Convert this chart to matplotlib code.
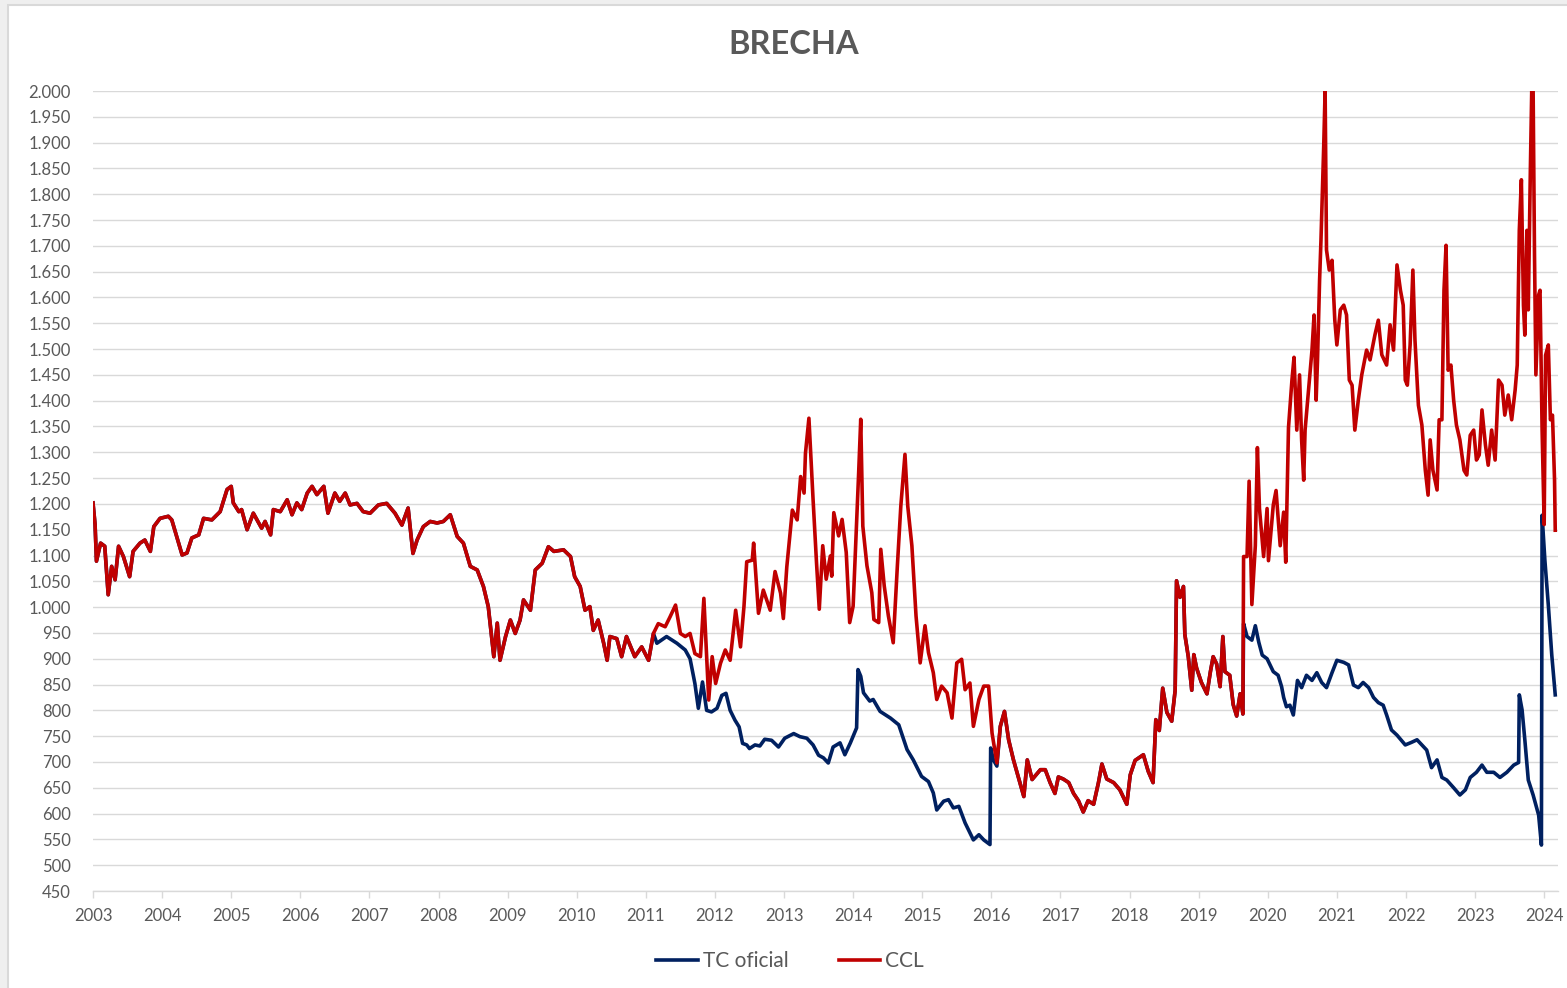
import matplotlib
matplotlib.use("Agg")
import matplotlib.pyplot as plt
from matplotlib.patches import Rectangle
from matplotlib.ticker import FuncFormatter, MultipleLocator
import numpy as np

# CCL (decimal year, value)
ccl_fecha = [
    2003.00, 2003.03, 2003.05, 2003.11, 2003.17, 2003.22, 2003.27, 2003.32, 2003.37, 2003.44,
    2003.53, 2003.58, 2003.68, 2003.75, 2003.83, 2003.88, 2003.97, 2004.09, 2004.14, 2004.21,
    2004.29, 2004.36, 2004.43, 2004.53, 2004.60, 2004.72, 2004.84, 2004.94, 2005.00, 2005.03,
    2005.11, 2005.15, 2005.23, 2005.32, 2005.44, 2005.49, 2005.57, 2005.61, 2005.71, 2005.81,
    2005.88, 2005.95, 2006.02, 2006.10, 2006.17, 2006.24, 2006.34, 2006.40,
    2006.50, 2006.57, 2006.65, 2006.72, 2006.82, 2006.91, 2007.01, 2007.13, 2007.25, 2007.37,
    2007.47, 2007.56, 2007.63, 2007.69, 2007.78, 2007.88, 2007.98, 2008.07, 2008.17, 2008.27,
    2008.36, 2008.46, 2008.56, 2008.65, 2008.72, 2008.80, 2008.85, 2008.89, 2008.97, 2009.04,
    2009.11, 2009.18, 2009.23, 2009.33, 2009.40, 2009.50, 2009.59, 2009.67, 2009.81, 2009.91,
    2009.97, 2010.05, 2010.12, 2010.19, 2010.24, 2010.31, 2010.39, 2010.44, 2010.48, 2010.58,
    2010.65, 2010.72, 2010.84, 2010.94, 2011.04, 2011.11, 2011.18, 2011.28, 2011.35, 2011.43,
    2011.50, 2011.57, 2011.64, 2011.71, 2011.79, 2011.84, 2011.91, 2011.96, 2012.01, 2012.08,
    2012.15, 2012.22, 2012.30, 2012.37, 2012.42, 2012.46, 2012.54, 2012.56, 2012.63, 2012.70,
    2012.80, 2012.87, 2012.95, 2012.99, 2013.04, 2013.12, 2013.19, 2013.24, 2013.29, 2013.31,
    2013.36,
    2013.42, 2013.47, 2013.51, 2013.56, 2013.61, 2013.67, 2013.69, 2013.72, 2013.79, 2013.84,
    2013.90, 2013.95, 2014.00, 2014.04, 2014.08, 2014.11, 2014.14, 2014.20, 2014.27, 2014.30,
    2014.37, 2014.40, 2014.45, 2014.51, 2014.58, 2014.64, 2014.69, 2014.75, 2014.79, 2014.85,
    2014.91, 2014.97, 2015.04, 2015.09, 2015.16, 2015.21, 2015.28, 2015.36, 2015.43, 2015.50,
    2015.57, 2015.62, 2015.69, 2015.74, 2015.82, 2015.89, 2015.96, 2016.01, 2016.08, 2016.13,
    2016.19, 2016.25, 2016.32, 2016.40, 2016.47, 2016.52, 2016.59, 2016.71, 2016.78,
    2016.85, 2016.92, 2016.97, 2017.04, 2017.12, 2017.19, 2017.26, 2017.33, 2017.40, 2017.48,
    2017.55, 2017.60, 2017.67, 2017.77, 2017.86, 2017.96, 2018.01, 2018.08, 2018.20, 2018.27,
    2018.34, 2018.38, 2018.43, 2018.48, 2018.54, 2018.61, 2018.66, 2018.68, 2018.73, 2018.78,
    2018.80, 2018.85, 2018.90, 2018.93, 2018.97, 2019.04, 2019.12, 2019.17, 2019.21, 2019.26,
    2019.31, 2019.35, 2019.38, 2019.45, 2019.50, 2019.55, 2019.60, 2019.64, 2019.65, 2019.70,
    2019.73, 2019.77, 2019.82, 2019.85, 2019.88, 2019.94, 2019.99, 2020.01, 2020.08, 2020.12,
    2020.18, 2020.23, 2020.26, 2020.30,
    2020.35, 2020.38, 2020.42, 2020.46, 2020.49, 2020.52, 2020.54, 2020.59, 2020.64, 2020.67,
    2020.70, 2020.72, 2020.75, 2020.77, 2020.81, 2020.83, 2020.85, 2020.89, 2020.93, 2020.97,
    2021.00, 2021.05, 2021.10, 2021.14, 2021.18, 2021.22, 2021.26, 2021.31, 2021.36, 2021.43,
    2021.48, 2021.55, 2021.60, 2021.65, 2021.72, 2021.77, 2021.82, 2021.87, 2021.92, 2021.96,
    2021.99, 2022.02, 2022.06, 2022.10, 2022.13, 2022.18, 2022.23, 2022.28, 2022.32, 2022.35,
    2022.39, 2022.42, 2022.45, 2022.48, 2022.52, 2022.55, 2022.58, 2022.61, 2022.65, 2022.69,
    2022.73, 2022.78, 2022.84, 2022.88, 2022.93, 2022.98, 2023.02, 2023.06, 2023.10, 2023.15,
    2023.19, 2023.24, 2023.29, 2023.34, 2023.39, 2023.43, 2023.48, 2023.53, 2023.58, 2023.61,
    2023.64, 2023.67, 2023.70, 2023.72, 2023.75, 2023.77, 2023.80, 2023.82, 2023.84, 2023.86,
    2023.88, 2023.92, 2023.94, 2023.97, 2024.00, 2024.02, 2024.06, 2024.09, 2024.12, 2024.15,
    2024.16,
]
ccl = [
    1202, 1160, 1089, 1124, 1118, 1024, 1079, 1053, 1118, 1098,
    1059, 1108, 1124, 1130, 1108, 1156, 1172, 1176, 1169, 1137,
    1101, 1105, 1134, 1140, 1172, 1169, 1185, 1228, 1234, 1202,
    1185, 1189, 1150, 1182, 1153, 1166, 1140, 1189, 1185, 1208,
    1179, 1202, 1189, 1221, 1234, 1218, 1234, 1182,
    1221, 1205, 1221, 1198, 1201, 1185, 1182, 1198, 1201, 1182,
    1159, 1192, 1104, 1130, 1156, 1166, 1163, 1166, 1179, 1137,
    1124, 1079, 1072, 1040, 1001, 904, 969, 897, 943, 975,
    949, 975, 1014, 994, 1072, 1085, 1117, 1108, 1111, 1098,
    1059, 1040, 994, 1001, 955, 975, 930, 897, 943, 939,
    904, 943, 904, 923, 897, 949, 968, 962, 981, 1004,
    949, 943, 949, 910, 904, 1017, 820, 904, 852, 891,
    917, 897, 994, 923, 1001, 1088, 1091, 1124, 988, 1033,
    994, 1069, 1027, 978, 1078, 1188, 1169, 1253, 1221, 1298,
    1366,
    1209, 1086, 996, 1119, 1054, 1099, 1060, 1183, 1138, 1170,
    1106, 970, 1002, 1131, 1261, 1364, 1157, 1080, 1028, 976,
    970, 1112, 1041, 983, 931, 1080, 1196, 1296, 1196, 1119,
    983, 892, 964, 912, 873, 821, 847, 834, 785, 892,
    899, 840, 853, 769, 821, 847, 847, 756, 698, 769,
    798, 743, 704, 666, 633, 704, 666, 685, 685,
    660, 639, 671, 667, 660, 639, 625, 603, 625, 618,
    660, 696, 667, 660, 646, 618, 675, 703, 714, 682,
    660, 782, 761, 843, 796, 779, 839, 1051, 1019, 1040,
    947, 904, 839, 908, 882, 854, 832, 875, 904, 890,
    846, 943, 875, 868, 811, 789, 832, 793, 1098, 1098,
    1244, 1005, 1119, 1309, 1191, 1098, 1191, 1090, 1198, 1226,
    1119, 1184, 1087, 1348,
    1440, 1484, 1343, 1450, 1324, 1246, 1343, 1421, 1498, 1566,
    1401, 1479, 1634, 1711, 1895, 2002, 1692, 1653, 1672, 1556,
    1508, 1576, 1585, 1566, 1440, 1430, 1343, 1401, 1450, 1498,
    1479, 1527, 1556, 1489, 1469, 1547, 1498, 1663, 1614, 1585,
    1440, 1430, 1508, 1653, 1518, 1391, 1353, 1265, 1217, 1324,
    1265, 1246, 1227, 1363, 1363, 1614, 1701, 1459, 1469, 1401,
    1353, 1324, 1265, 1256, 1333, 1343, 1285, 1295, 1382, 1314,
    1275, 1343, 1285, 1440, 1430, 1372, 1411, 1363, 1421, 1469,
    1730, 1828, 1585, 1527, 1730, 1576, 1847, 2002, 2002, 1682,
    1450, 1605, 1614, 1343, 1160, 1488, 1508, 1363, 1372, 1246,
    1149,
]

# TC oficial, only where it separates from CCL
oficial_fecha_a = [
    2011.16, 2011.30, 2011.45, 2011.57, 2011.64, 2011.71, 2011.76, 2011.82, 2011.88, 2011.95,
    2012.03, 2012.10, 2012.16, 2012.22, 2012.29, 2012.35, 2012.40, 2012.46, 2012.50, 2012.58,
    2012.65, 2012.72, 2012.82, 2012.92, 2013.01, 2013.14, 2013.23, 2013.33, 2013.42, 2013.50,
    2013.57, 2013.64, 2013.71, 2013.81, 2013.88, 2013.96, 2014.05, 2014.07, 2014.11, 2014.15,
    2014.24, 2014.29, 2014.39, 2014.54, 2014.66, 2014.70, 2014.78, 2014.87, 2014.99, 2015.09,
    2015.16, 2015.21, 2015.31, 2015.38, 2015.45, 2015.53, 2015.62, 2015.74, 2015.82, 2015.89,
    2015.98, 2015.99, 2016.03, 2016.08,
]
oficial_a = [
    930, 943, 930, 917, 900, 852, 804, 855, 800, 797,
    804, 829, 833, 800, 781, 768, 736, 733, 726, 733,
    731, 744, 742, 729, 746, 755, 749, 746, 733, 713,
    708, 698, 729, 737, 714, 737, 766, 879, 866, 834,
    818, 821, 798, 785, 772, 756, 724, 704, 672, 662,
    640, 607, 624, 627, 611, 614, 582, 549, 559, 549,
    540, 727, 704, 692,
]
oficial_fecha_b = [
    2019.65, 2019.70, 2019.77, 2019.82, 2019.87, 2019.92, 2019.99, 2020.08, 2020.15, 2020.20,
    2020.23, 2020.27, 2020.32, 2020.37, 2020.43, 2020.49, 2020.56, 2020.64, 2020.71, 2020.78,
    2020.85, 2020.93, 2021.00, 2021.10, 2021.17, 2021.24, 2021.31, 2021.38, 2021.46, 2021.53,
    2021.60, 2021.67, 2021.72, 2021.79, 2021.87, 2021.99, 2022.08, 2022.16, 2022.23, 2022.30,
    2022.37, 2022.45, 2022.52, 2022.59, 2022.69, 2022.78, 2022.86, 2022.93, 2023.02, 2023.10,
    2023.17, 2023.27, 2023.36, 2023.46, 2023.56, 2023.63, 2023.64, 2023.68, 2023.72, 2023.77,
    2023.84, 2023.92, 2023.96, 2023.97, 2024.01, 2024.06, 2024.11, 2024.16,
]
oficial_b = [
    968, 943, 936, 964, 932, 907, 900, 875, 868, 846,
    825, 807, 810, 791, 858, 844, 868, 858, 873, 854,
    844, 873, 897, 893, 888, 849, 844, 854, 844, 825,
    815, 810, 791, 762, 752, 733, 738, 743, 733, 723,
    689, 704, 670, 665, 650, 636, 646, 670, 680, 694,
    680, 680, 670, 680, 694, 699, 830, 801, 743, 665,
    636, 597, 539, 1178, 1091, 1004, 907, 830,
]

anios = list(range(2003, 2025))

# where the official rate equals CCL, take the CCL points
cf = np.array(ccl_fecha)
cv = np.array(ccl)
igual = (cf < 2011.16) | ((cf > 2016.08) & (cf < 2019.65))
of_x = np.concatenate([cf[igual], oficial_fecha_a, oficial_fecha_b])
of_y = np.concatenate([cv[igual], oficial_a, oficial_b])
orden = np.argsort(of_x, kind="stable")
of_x, of_y = of_x[orden], of_y[orden]

plt.rcParams['font.family'] = ['Lato', 'DejaVu Sans']
gris = '#595959'

W, H = 1567, 988
fig = plt.figure(figsize=(W / 100, H / 100), dpi=100, facecolor='#efefef')
fig.patches.append(Rectangle((7.5 / W, -0.05), 1.2, 1 - 4.5 / H + 0.05,
                             transform=fig.transFigure, facecolor='white',
                             edgecolor='#d9d9d9', linewidth=1.5, zorder=-5))

ax = fig.add_axes([93 / W, 1 - 891 / H, (1558 - 93) / W, 800 / H])
ax.set_zorder(2)
ax.set_facecolor('white')

ax.plot(of_x, of_y, color='#002060', lw=2.6, label='TC oficial', zorder=3)
ax.plot(ccl_fecha, ccl, color='#C00000', lw=2.6, label='CCL', zorder=4)

ax.set_xlim(2003, 2024.2)
ax.set_ylim(450, 2000)
ax.yaxis.set_major_locator(MultipleLocator(50))
ax.yaxis.set_major_formatter(FuncFormatter(lambda v, p: f"{int(round(v)):,}".replace(",", ".")))
ax.set_xticks(anios)
ax.set_xticklabels([str(a) for a in anios])

ax.grid(axis='y', color='#d9d9d9', lw=1.0)
ax.set_axisbelow(True)
for s in ['top', 'right', 'left']:
    ax.spines[s].set_visible(False)
ax.spines['bottom'].set_color('#d9d9d9')
ax.spines['bottom'].set_linewidth(1.0)
ax.tick_params(axis='y', length=0, pad=16, labelsize=12, labelcolor=gris)
ax.tick_params(axis='x', length=5, width=1, color='#d9d9d9', pad=7, labelsize=12, labelcolor=gris)

fig.text(794 / W, 1 - 44 / H, 'BRECHA', ha='center', va='center',
         fontsize=23.5, fontweight='bold', color=gris)

fig.legend(loc='center', bbox_to_anchor=(790 / W, 1 - 961 / H), ncol=2, frameon=False,
           fontsize=15, handlelength=2.0, handletextpad=0.25, columnspacing=2.4,
           labelcolor=gris)

fig.savefig('out.png', dpi=100, facecolor=fig.get_facecolor())
